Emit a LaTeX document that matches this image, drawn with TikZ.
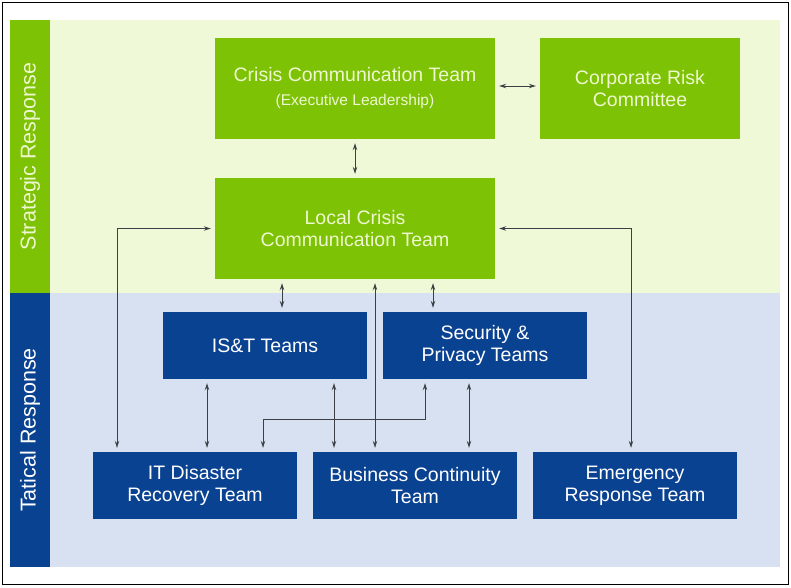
\documentclass[tikz,border=0pt]{standalone}
\usepackage{fontspec}
\setmainfont{Liberation Sans}
\usetikzlibrary{arrows.meta}
\definecolor{leafgreen}{RGB}{125,194,5}
\definecolor{palegreen}{RGB}{239,249,216}
\definecolor{paletext}{RGB}{238,247,206}
\definecolor{navy}{RGB}{10,66,146}
\definecolor{paleblue}{RGB}{215,225,241}
\definecolor{linkgray}{RGB}{60,64,68}
\begin{document}
\begin{tikzpicture}[x=1pt,y=-1pt,
    team/.style={minimum width=204pt, minimum height=67pt, inner sep=0pt, align=center, font=\fontsize{19.5}{22}\selectfont},
    strat/.style={team, fill=leafgreen, text=paletext, minimum height=101pt},
    tact/.style={team, fill=navy, text=white},
    band/.style={rotate=90, font=\fontsize{21.5}{24}\selectfont},
    link/.style={{Stealth[length=7pt,width=4.5pt]}-{Stealth[length=7pt,width=4.5pt]}, draw=linkgray, line width=1pt, shorten <=4pt, shorten >=4pt}]
    \useasboundingbox (0,0) rectangle (791,587);
    \draw[line width=1pt] (2,2) rectangle (788,584);
    \fill[palegreen] (50,20) rectangle (780,293);
    \fill[paleblue] (50,293) rectangle (780,567);
    \fill[leafgreen] (10,20) rectangle (50,293);
    \fill[navy] (10,293) rectangle (50,567);
    \node[band, text=paletext] (strategic) at (30,156.5) {Strategic Response};
    \node[band, text=white] (tactical) at (30,430) {Tatical Response};

    \node[strat, minimum width=280pt] (crisis) at (355,88.5) {Crisis Communication Team\\[2pt]{\fontsize{15.5}{18}\selectfont (Executive Leadership)}};
    \node[strat, minimum width=200pt] (risk) at (640,88.5) {Corporate Risk\\Committee};
    \node[strat, minimum width=280pt] (local) at (355,228.5) {Local Crisis\\Communication Team};
    \node[tact] (ist) at (265,345.5) {IS\&T Teams};
    \node[tact] (sec) at (485,345.5) {Security \&\\Privacy Teams};
    \node[tact] (itdr) at (195,485.5) {IT Disaster\\Recovery Team};
    \node[tact] (bct) at (415,485.5) {Business Continuity\\Team};
    \node[tact] (ert) at (635,485.5) {Emergency\\Response Team};

    \draw[link] ([yshift=2.5pt]crisis.east) -- ([yshift=2.5pt]risk.west);
    \draw[link] (crisis) -- (local);
    \draw[link] (local.west) -| ([xshift=-78pt]itdr.north);
    \draw[link] (local.east) -| ([xshift=-4pt]ert.north);
    \draw[link] ([xshift=-73pt]local.south) -- ([xshift=17pt]ist.north);
    \draw[link] ([xshift=78pt]local.south) -- ([xshift=-52pt]sec.north);
    \draw[link] ([xshift=20pt]local.south) -- ([xshift=-40pt]bct.north);
    \draw[link] ([xshift=-58pt]ist.south) -- ([xshift=12pt]itdr.north);
    \draw[link] ([xshift=69pt]ist.south) -- ([xshift=-81pt]bct.north);
    \draw[link] ([xshift=-16pt]sec.south) -- ([xshift=54pt]bct.north);
    \draw[link] ([xshift=-60pt]sec.south) -- ++(0,40) -| ([xshift=68pt]itdr.north);
\end{tikzpicture}
\end{document}
